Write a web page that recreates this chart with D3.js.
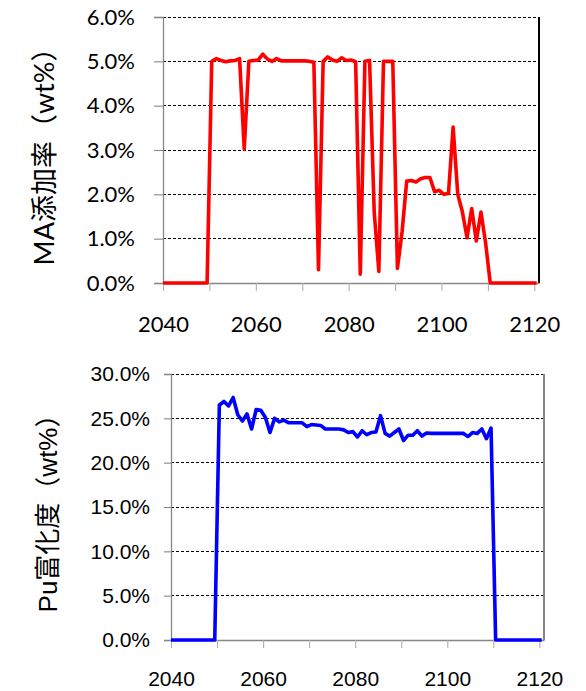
<!DOCTYPE html>
<html>
<head>
<meta charset="utf-8">
<script src="https://cdn.jsdelivr.net/npm/d3@7"></script>
<style>
  html, body { margin: 0; padding: 0; background: #fff; }
  svg { display: block; }
</style>
</head>
<body>
<svg id="chart" width="586" height="691"></svg>
<script>
// ---------- data ----------
const maYears = [2040, 2049.5, 2050.5, 2051.5, 2052.5, 2053.5, 2054.5, 2055.5, 2056.5, 2057.5, 2058.5, 2059.5,
  2060.5, 2061.5, 2062.5, 2063.5, 2064.5, 2065.5, 2066.5, 2067.5, 2068.5, 2069.5, 2070.5, 2071.5, 2072.5,
  2073.5, 2074.5, 2075.5, 2076.5, 2077.5, 2078.5, 2079.5, 2080.5, 2081.5, 2082.5, 2083.5, 2084.5, 2085.5,
  2086.5, 2087.5, 2088.5, 2089.5, 2090.5, 2091.5, 2092.5, 2093.5, 2094.5, 2095.5, 2096.5, 2097.5, 2098.5,
  2099.5, 2100.5, 2101.5, 2102.5, 2103.5, 2104.5, 2105.5, 2106.5, 2107.5, 2108.5, 2109.5, 2110.5, 2120.5];
const maValues = [0, 0, 5.0, 5.06, 5.02, 4.99, 5.01, 5.02, 5.06, 3.02, 5.0, 5.02,
  5.03, 5.16, 5.05, 5.0, 5.06, 5.01, 5.01, 5.01, 5.01, 5.01, 5.01, 5.0, 4.98,
  0.3, 5.0, 5.1, 5.03, 5.0, 5.08, 5.02, 5.03, 4.99, 0.2, 5.0, 5.02, 1.6,
  0.26, 5.0, 5.0, 5.0, 0.33, 1.15, 2.3, 2.31, 2.28, 2.35, 2.38, 2.38, 2.06,
  2.09, 2.0, 2.02, 3.52, 2.0, 1.6, 1.02, 1.68, 0.95, 1.6, 0.9, 0, 0];

const puYears = [2040, 2049.5, 2050.5, 2051.5, 2052.5, 2053.5, 2054.5, 2055.5, 2056.5, 2057.5, 2058.5, 2059.5,
  2060.5, 2061.5, 2062.5, 2063.5, 2064.5, 2065.5, 2066.5, 2067.5, 2068.5, 2069.5, 2070.5, 2071.5, 2072.5,
  2073.5, 2074.5, 2075.5, 2076.5, 2077.5, 2078.5, 2079.5, 2080.5, 2081.5, 2082.5, 2083.5, 2084.5, 2085.5,
  2086.5, 2087.5, 2088.5, 2089.5, 2090.5, 2091.5, 2092.5, 2093.5, 2094.5, 2095.5, 2096.5, 2097.5, 2098.5,
  2099.5, 2100.5, 2101.5, 2102.5, 2103.5, 2104.5, 2105.5, 2106.5, 2107.5, 2108.5, 2109.5, 2110.5, 2120.5];
const puValues = [0, 0, 26.5, 26.9, 26.4, 27.35, 25.4, 24.7, 25.5, 23.8, 26.0, 25.9,
  25.1, 23.4, 25.0, 24.6, 24.8, 24.5, 24.5, 24.5, 24.5, 24.07, 24.3, 24.25, 24.2,
  23.8, 23.8, 23.8, 23.8, 23.7, 23.4, 23.5, 22.9, 23.6, 23.15, 23.4, 23.45, 25.3,
  23.3, 23.0, 23.4, 23.8, 22.5, 23.1, 23.1, 23.6, 23.0, 23.35, 23.3, 23.3, 23.3,
  23.3, 23.3, 23.3, 23.3, 23.3, 22.95, 23.4, 23.3, 23.8, 22.7, 23.9, 0, 0];

const xTicks = [2040, 2050, 2060, 2070, 2080, 2090, 2100, 2110, 2120];
const xLabelTicks = [2040, 2060, 2080, 2100, 2120];
const maTicks = [0, 1, 2, 3, 4, 5, 6];
const puTicks = [0, 5, 10, 15, 20, 25, 30];
const maTitle = "MA添加率（wt%）";
const puTitle = "Pu富化度（wt%）";

// ---------- drawing ----------
const svg = d3.select("#chart");

function panel(cfg) {
  const g = svg.append("g");
  const x = d3.scaleLinear().domain([2040, 2121]).range([cfg.left, cfg.right]);
  const y = d3.scaleLinear().domain([0, cfg.yMax]).range([cfg.bottom, cfg.top]);

  // gridlines (dashed)
  g.append("g").selectAll("line").data(cfg.yTicks.filter(d => d > 0)).join("line")
    .attr("x1", cfg.left).attr("x2", cfg.right)
    .attr("y1", d => y(d)).attr("y2", d => y(d))
    .attr("stroke", "#000").attr("stroke-width", 1)
    .attr("stroke-dasharray", "3,2")
    .attr("shape-rendering", "crispEdges");

  // right border
  g.append("line")
    .attr("x1", cfg.right).attr("x2", cfg.right)
    .attr("y1", cfg.top).attr("y2", cfg.bottom)
    .attr("stroke", cfg.rightColor).attr("stroke-width", 1.2)
    .attr("shape-rendering", "crispEdges");

  // y axis
  const yAxis = d3.axisLeft(y).tickValues(cfg.yTicks)
    .tickSize(cfg.yTickSize).tickPadding(cfg.yPad)
    .tickFormat(d => d.toFixed(1) + "%");
  const ya = g.append("g").attr("transform", `translate(${cfg.left},0)`).call(yAxis);
  ya.select(".domain").attr("stroke", "#878787").attr("stroke-width", 1.3);
  ya.selectAll(".tick line").attr("stroke", "#878787").attr("stroke-width", 1.1);
  ya.selectAll(".tick text").attr("fill", "#000")
    .style("font-family", cfg.tickFont).style("font-size", cfg.tickSizePx + "px");

  // x axis
  const xAxis = d3.axisBottom(x).tickValues(xTicks)
    .tickSize(cfg.xTickSize).tickPadding(cfg.xPad)
    .tickSizeOuter(0)
    .tickFormat(d => xLabelTicks.includes(d) ? String(d) : "");
  const xa = g.append("g").attr("transform", `translate(0,${cfg.bottom})`).call(xAxis);
  xa.select(".domain").attr("stroke", "#878787").attr("stroke-width", 1.3);
  xa.selectAll(".tick line").attr("stroke", "#b0b0b0").attr("stroke-width", 1.1);
  xa.selectAll(".tick text").attr("fill", "#000")
    .style("font-family", cfg.tickFont).style("font-size", cfg.tickSizePx + "px");

  // data line
  const pts = cfg.years.map((yr, i) => [yr, cfg.values[i]]);
  g.append("path").datum(pts)
    .attr("fill", "none").attr("stroke", cfg.color).attr("stroke-width", 3.6)
    .attr("stroke-linejoin", "round")
    .attr("d", d3.line().x(d => x(d[0])).y(d => y(d[1])));

  // title
  g.append("text")
    .attr("transform", `translate(${cfg.titleX},${(cfg.top + cfg.bottom) / 2}) rotate(-90)`)
    .attr("text-anchor", "middle").attr("dominant-baseline", "central")
    .style("font-family", cfg.titleFont).style("font-size", cfg.titleSize + "px")
    .attr("fill", "#000")
    .text(cfg.title);
}

panel({
  left: 163, right: 539, top: 17, bottom: 283, yMax: 6, yTicks: maTicks,
  years: maYears, values: maValues, color: "#ff0000", rightColor: "#000",
  yTickSize: 9, yPad: 19, xTickSize: 8, xPad: 25,
  tickFont: "Lato, 'Open Sans', sans-serif", tickSizePx: 22,
  titleX: 43, titleFont: "Lato, 'Noto Sans CJK JP', sans-serif", titleSize: 27, title: maTitle
});

panel({
  left: 171, right: 544, top: 374, bottom: 640, yMax: 30, yTicks: puTicks,
  years: puYears, values: puValues, color: "#0000ff", rightColor: "#878787",
  yTickSize: 7, yPad: 14, xTickSize: 8, xPad: 23,
  tickFont: "'Liberation Sans', Arial, sans-serif", tickSizePx: 21,
  titleX: 48, titleFont: "'Liberation Sans', 'Noto Sans CJK JP', sans-serif", titleSize: 26, title: puTitle
});
</script>
</body>
</html>
